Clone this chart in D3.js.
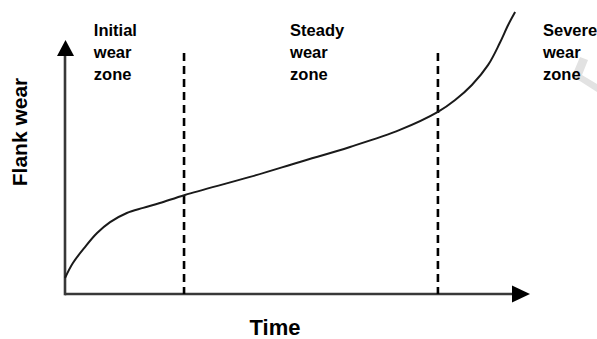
<!DOCTYPE html>
<html>
<head>
<meta charset="utf-8">
<script src="https://cdn.jsdelivr.net/npm/d3@7"></script>
<style>
html,body{margin:0;padding:0;background:#fff;}
svg{display:block;}
text{font-family:"Liberation Sans",Arial,sans-serif;font-weight:bold;fill:#000;}
</style>
</head>
<body>
<svg id="chart" width="597" height="339"></svg>
<script>
// Data (arbitrary units: time 0..100 along axis, flank wear 0..100 along axis)
const timeValues = [0, 1.7, 4.3, 6.9, 9.7, 13.3, 16.8, 20.4, 25.8, 39.8, 50.5, 61.3, 72.0, 80.2, 83.9, 87.5, 91.0, 93.5, 95.3, 96.8];
const wearValues = [6.3, 12.2, 18.5, 24.0, 28.3, 31.9, 33.9, 35.8, 39.0, 46.1, 52.0, 57.9, 64.6, 71.7, 76.4, 82.3, 90.2, 98.8, 105.9, 111.0];
const zoneBoundaries = [25.6, 80.2];
const zoneLabels = [["Initial","wear","zone"],["Steady","wear","zone"],["Severe","wear","zone"]];
const zoneLabelX = [6.2, 48.4, 102.8];
const xTitle = "Time";
const yTitle = "Flank wear";

const svg = d3.select("#chart");
const x = d3.scaleLinear().domain([0, 100]).range([65, 530]);
const y = d3.scaleLinear().domain([0, 100]).range([294, 40]);

// watermark-like faint shape
svg.append("path")
  .attr("d", "M580,57 L572,76 L597,92 L597,84 L582,75 L588,60 Z")
  .attr("fill", "#e2e2e2");

// axes
svg.append("line").attr("x1", x(0)).attr("x2", x(100) - 18).attr("y1", y(0)).attr("y2", y(0))
  .attr("stroke", "#383838").attr("stroke-width", 2.6);
svg.append("line").attr("x1", x(0)).attr("x2", x(0)).attr("y1", y(0) + 1.3).attr("y2", y(100) + 16)
  .attr("stroke", "#383838").attr("stroke-width", 2.6);
// arrowheads
svg.append("path")
  .attr("d", `M${x(100)},${y(0)} L${x(100)-18},${y(0)-8.5} L${x(100)-18},${y(0)+8.5} Z`)
  .attr("fill", "#000");
svg.append("path")
  .attr("d", `M${x(0)+0.5},${y(100)} L${x(0)+0.5-8.5},${y(100)+16} L${x(0)+0.5+8.5},${y(100)+16} Z`)
  .attr("fill", "#000");

// zone boundaries
svg.selectAll("line.zone").data(zoneBoundaries).enter().append("line")
  .attr("class", "zone")
  .attr("x1", d => x(d)).attr("x2", d => x(d))
  .attr("y1", 53).attr("y2", y(0))
  .attr("stroke", "#000").attr("stroke-width", 2.6)
  .attr("stroke-dasharray", "8,5");

// curve
const pts = timeValues.map((t, i) => [t, wearValues[i]]);
const line = d3.line().x(d => x(d[0])).y(d => y(d[1])).curve(d3.curveCatmullRom.alpha(0.5));
svg.append("path").datum(pts).attr("d", line)
  .attr("fill", "none").attr("stroke", "#1a1a1a").attr("stroke-width", 2);

// zone labels
zoneLabels.forEach((lines, i) => {
  lines.forEach((s, j) => {
    svg.append("text").attr("x", x(zoneLabelX[i])).attr("y", 36 + j * 22)
      .attr("font-size", 16.5).text(s);
  });
});

// axis titles
svg.append("text").attr("x", 275).attr("y", 335).attr("text-anchor", "middle")
  .attr("font-size", 22).text(xTitle);
svg.append("text").attr("transform", "translate(27,132) rotate(-90)")
  .attr("text-anchor", "middle").attr("font-size", 21).text(yTitle);
</script>
</body>
</html>
